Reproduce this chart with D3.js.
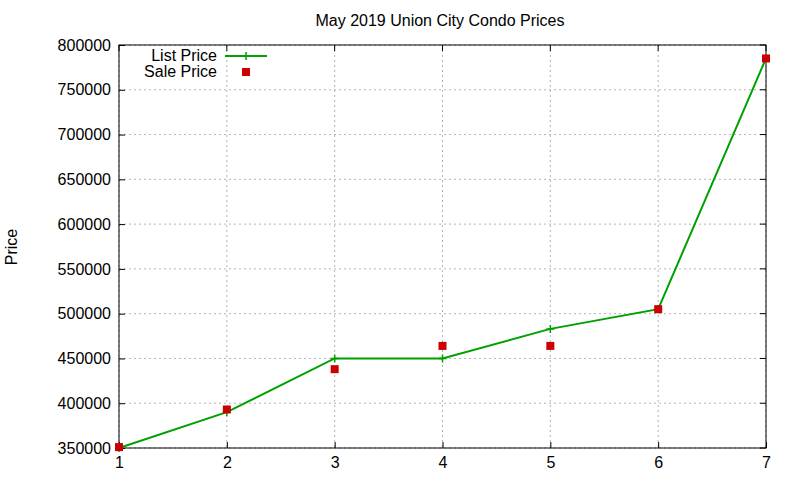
<!DOCTYPE html>
<html><head><meta charset="utf-8">
<script src="https://cdn.jsdelivr.net/npm/d3@7"></script>
<style>body{margin:0;background:#fff}text{font-family:"Liberation Sans",Arial,sans-serif;font-size:16px}</style>
</head><body><svg id="c" width="800" height="480"></svg>
<script>
const xs = [1,2,3,4,5,6,7];
const listPrice = [350000,390000,450000,450000,483000,505000,785000];
const salePrice = [351000,393000,438000,464000,464000,505000,785000];
const yTicks = [350000,400000,450000,500000,550000,600000,650000,700000,750000,800000];

const svg = d3.select("#c");
const L=119,R=766,T=45,B=448;
const x = d3.scaleLinear().domain([1,7]).range([L,R]);
const y = d3.scaleLinear().domain([350000,800000]).range([B,T]);

const g = svg.append("g");
xs.forEach(v=>g.append("line").attr("x1",x(v)).attr("x2",x(v)).attr("y1",T).attr("y2",B)
  .attr("stroke","#a0a0a0").attr("stroke-dasharray","2,3").attr("stroke-width",0.8));
yTicks.forEach(v=>g.append("line").attr("x1",L).attr("x2",R).attr("y1",y(v)).attr("y2",y(v))
  .attr("stroke","#a0a0a0").attr("stroke-dasharray","2,3").attr("stroke-width",0.8));

const ax = svg.append("g").attr("transform",`translate(0,${B})`)
  .call(d3.axisBottom(x).tickValues(xs).tickFormat(d3.format("d")).tickSizeInner(-6).tickSizeOuter(0).tickPadding(9));
const ay = svg.append("g").attr("transform",`translate(${L},0)`)
  .call(d3.axisLeft(y).tickValues(yTicks).tickFormat(d3.format("d")).tickSizeInner(-6).tickSizeOuter(0).tickPadding(8));
[ax,ay].forEach(a=>{a.select(".domain").remove();a.selectAll("text").attr("font-size",16).attr("fill","#000").attr("font-family","Liberation Sans, Arial, sans-serif");});
xs.forEach(v=>svg.append("line").attr("x1",x(v)).attr("x2",x(v)).attr("y1",T).attr("y2",T+6).attr("stroke","#000"));
yTicks.forEach(v=>svg.append("line").attr("x1",R).attr("x2",R-6).attr("y1",y(v)).attr("y2",y(v)).attr("stroke","#000"));
svg.append("rect").attr("x",L).attr("y",T).attr("width",R-L).attr("height",B-T).attr("fill","none").attr("stroke","#000");

const line = d3.line().x((d,i)=>x(xs[i])).y(d=>y(d));
svg.append("path").datum(listPrice).attr("d",line).attr("fill","none").attr("stroke","#00a000").attr("stroke-width",2);
const plus=(cx,cy)=>{svg.append("path").attr("d",`M${cx-4},${cy}H${cx+4}M${cx},${cy-4}V${cy+4}`).attr("stroke","#00a000").attr("stroke-width",1.5);};
listPrice.forEach((v,i)=>plus(x(xs[i]),y(v)));
svg.selectAll("rect.s").data(salePrice).enter().append("rect").attr("class","s")
  .attr("x",(d,i)=>x(xs[i])-4).attr("y",d=>y(d)-4).attr("width",8).attr("height",8).attr("fill","#cc0000");

svg.append("text").attr("x",217).attr("y",61).attr("text-anchor","end").text("List Price");
svg.append("line").attr("x1",225).attr("x2",267).attr("y1",56).attr("y2",56).attr("stroke","#00a000").attr("stroke-width",2);
plus(246,56);
svg.append("text").attr("x",217).attr("y",77).attr("text-anchor","end").text("Sale Price");
svg.append("rect").attr("x",242).attr("y",68).attr("width",8).attr("height",8).attr("fill","#cc0000");

svg.append("text").attr("x",440).attr("y",26).attr("text-anchor","middle").text("May 2019 Union City Condo Prices");
svg.append("text").attr("transform","translate(17,247) rotate(-90)").attr("text-anchor","middle").text("Price");
</script></body></html>
